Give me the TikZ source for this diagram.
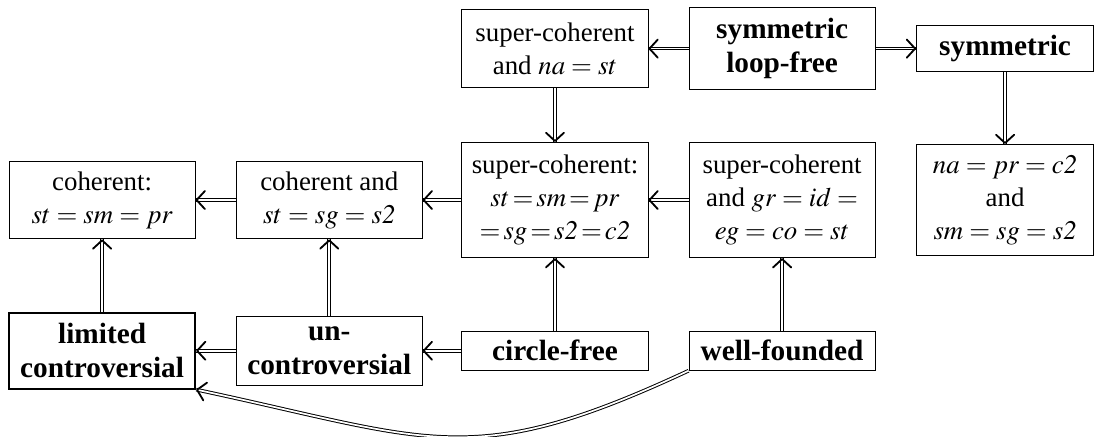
\documentclass[tikz,border=0pt]{standalone}
\usepackage{mathptmx}
\usepackage{fontspec}
\setmainfont{Liberation Serif}
\usetikzlibrary{arrows.meta,decorations.markings}

\begin{document}
\begin{tikzpicture}[
    prop/.style={draw, thin, align=center, inner xsep=2pt, inner ysep=1pt, minimum width=2.68cm, font=\fontsize{11}{13.6}\selectfont},
    strong/.style={prop, font=\fontsize{12}{14}\selectfont\bfseries},
    imp/.style={double, double distance=0.7pt,
        postaction={decorate, decoration={markings, mark=at position 1 with {\pgfsetinnerlinewidth{0pt}\arrow{Straight Barb[length=3.4pt,width=7.4pt,line width=0.75pt,round]}}}}}
]
    \useasboundingbox (0,0) rectangle (15.75,6.29);

    % Top row
    \node[prop, minimum height=1.12cm] (supna) at (7.99,5.59) {super-coherent\\and $na=st$};
    \node[strong, minimum height=1.17cm] (symloop) at (11.26,5.59) {symmetric\\loop-free};
    \node[strong, minimum width=2.55cm, minimum height=0.66cm] (symm) at (14.47,5.59) {symmetric};

    % Middle row
    \node[prop, minimum height=1.12cm] (coh) at (1.47,3.41) {coherent:\\$st=sm=pr$};
    \node[prop, minimum height=1.12cm] (cohand) at (4.74,3.41) {coherent and\\$st=sg=\mathit{s2}$};
    \node[prop, minimum height=1.66cm] (supcoh) at (7.99,3.41) {super-coherent:\\$st\!=\!sm\!=\!pr$\\$=\!sg\!=\!\mathit{s2}\!=\!\mathit{c2}$};
    \node[prop, minimum height=1.66cm] (supgr) at (11.26,3.41) {super-coherent\\and $gr=id=$\\$eg=co=st$};
    \node[prop, minimum width=2.55cm, minimum height=1.60cm] (napr) at (14.47,3.41) {$na=pr=\mathit{c2}$\\and\\$sm=sg=\mathit{s2}$};

    % Bottom row
    \node[strong, thick, minimum height=1.09cm] (limited) at (1.47,1.24) {limited\\controversial};
    \node[strong, minimum height=0.99cm] (uncontr) at (4.74,1.24) {un-\\controversial};
    \node[strong, minimum height=0.56cm] (circfree) at (7.99,1.24) {circle-free};
    \node[strong, minimum height=0.56cm] (wellf) at (11.26,1.24) {well-founded};

    % Implications in the top row
    \draw[imp] (symloop) -- (supna);
    \draw[imp] (symloop) -- (symm);
    \draw[imp] (supna) -- (supcoh);
    \draw[imp] (symm) -- (napr);

    % Implications in the middle row
    \draw[imp] (supgr) -- (supcoh);
    \draw[imp] (supcoh) -- (cohand);
    \draw[imp] (cohand) -- (coh);

    % Implications from the bottom row
    \draw[imp] (limited) -- (coh);
    \draw[imp] (uncontr) -- (cohand);
    \draw[imp] (circfree) -- (supcoh);
    \draw[imp] (wellf) -- (supgr);
    \draw[imp] (circfree) -- (uncontr);
    \draw[imp] (uncontr) -- (limited);
    \draw[imp] (wellf.south west) to[out=-155, in=-12, looseness=1.25] (limited.south east);
\end{tikzpicture}
\end{document}
